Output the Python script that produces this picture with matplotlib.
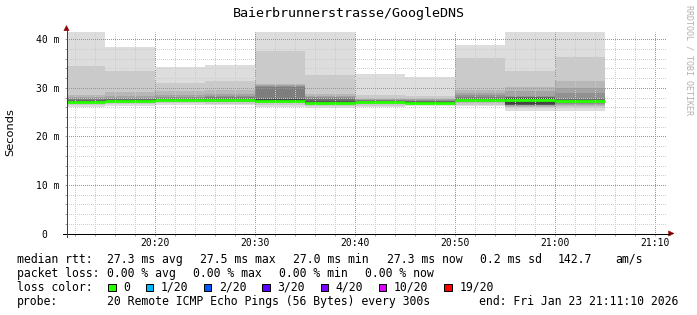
import matplotlib
matplotlib.use('Agg')
import matplotlib.pyplot as plt
import numpy as np
from matplotlib.patches import Rectangle, Polygon
from matplotlib.lines import Line2D

W, H = 697, 315
MONO = 'DejaVu Sans Mono'

# step start times, minutes after 20:00 (300 s steps)
starts = [10, 15, 20, 25, 30, 35, 40, 45, 50, 55, 60]
step = 5

# sorted rtts of the 20 pings per step (ms)
pings = [
    [26.0, 26.5, 26.7, 26.8, 26.9, 26.95, 27.0, 27.0, 27.05, 27.1, 27.15, 27.2, 27.3, 27.4, 27.6, 27.9, 28.1, 28.6, 34.6, 41.4],
    [26.3, 26.6, 26.9, 27.0, 27.1, 27.15, 27.2, 27.25, 27.3, 27.3, 27.35, 27.4, 27.5, 27.6, 27.8, 27.9, 28.3, 29.1, 33.5, 38.4],
    [26.5, 26.8, 27.0, 27.2, 27.3, 27.35, 27.4, 27.45, 27.5, 27.5, 27.55, 27.6, 27.7, 27.8, 28.0, 28.2, 28.6, 29.4, 31.0, 34.2],
    [26.4, 26.7, 27.0, 27.1, 27.2, 27.3, 27.35, 27.4, 27.45, 27.5, 27.55, 27.6, 27.7, 27.9, 28.1, 28.4, 28.8, 29.6, 31.5, 34.8],
    [26.1, 26.5, 26.8, 27.0, 27.1, 27.15, 27.2, 27.25, 27.3, 27.3, 27.4, 27.6, 27.8, 27.9, 30.1, 30.3, 30.5, 30.8, 37.6, 41.4],
    [25.8, 26.2, 26.4, 26.5, 26.6, 26.65, 26.7, 26.75, 26.8, 26.8, 26.9, 27.1, 27.3, 27.8, 28.0, 28.2, 28.4, 28.7, 32.7, 41.4],
    [26.0, 26.3, 26.6, 26.8, 26.9, 26.95, 27.0, 27.0, 27.05, 27.05, 27.1, 27.15, 27.2, 27.3, 27.4, 27.5, 27.7, 28.0, 28.6, 32.8],
    [26.3, 26.5, 26.6, 26.7, 26.8, 26.85, 26.9, 26.9, 26.95, 26.95, 27.0, 27.05, 27.1, 27.2, 27.3, 27.45, 27.7, 28.0, 28.4, 32.2],
    [26.2, 26.5, 26.8, 27.0, 27.2, 27.3, 27.35, 27.4, 27.45, 27.5, 27.55, 27.6, 27.7, 27.9, 28.2, 28.5, 28.9, 29.6, 36.1, 38.8],
    [25.3, 25.8, 26.1, 26.3, 26.4, 26.4, 26.45, 26.5, 26.6, 27.3, 27.7, 27.9, 28.0, 28.1, 28.2, 28.4, 29.4, 30.1, 33.5, 41.4],
    [25.3, 25.8, 26.2, 26.5, 26.7, 26.9, 27.0, 27.1, 27.15, 27.2, 27.25, 27.3, 27.4, 27.6, 28.0, 28.9, 30.0, 31.5, 36.4, 41.4],
]
median = [27.1, 27.3, 27.5, 27.5, 27.35, 26.8, 27.0, 26.9, 27.5, 27.5, 27.2]

xticks = [20, 30, 40, 50, 60, 70]
xtick_labels = ['20:20', '20:30', '20:40', '20:50', '21:00', '21:10']
yticks = [0, 10, 20, 30, 40]
ytick_labels = ['0  ', '10 m', '20 m', '30 m', '40 m']

loss_labels = ['0', '1/20', '2/20', '3/20', '4/20', '10/20', '19/20']
loss_colors = ['#26ff00', '#00b8ff', '#0059ff', '#5e00ff', '#7e00ff', '#dd00ff', '#ff0000']

title = 'Baierbrunnerstrasse/GoogleDNS'


def fx(px):
    return px / W


def fy(py):
    return 1 - py / H


fig = plt.figure(figsize=(W / 100, H / 100), dpi=100)
fig.patch.set_facecolor('white')

ax_l, ax_r, ax_b, ax_t = 66.5, 666.5, 233.5, 32.0
ax = fig.add_axes([fx(ax_l), fy(ax_b), (ax_r - ax_l) / W, (ax_b - ax_t) / H])
ax.set_xlim(11 + 10 / 60, 71 + 10 / 60)
ax.set_ylim(0, 41.5)
for s in ax.spines.values():
    s.set_visible(False)

# smoke: layer k spans ping k .. ping (n-1-k), lighter outside
p = np.array(pings)
n = p.shape[1]
half = n // 2
edges = starts + [starts[-1] + step]
for k in range(half):
    g = int(190 / half * (half - 1 - k)) + 50
    col = '#%02x%02x%02x' % (g, g, g)
    lo = np.append(p[:, k], p[-1, k])
    hi = np.append(p[:, n - 1 - k], p[-1, n - 1 - k])
    ax.fill_between(edges, lo, hi, step='post', color=col, linewidth=0, zorder=1)

ax.hlines(median, starts, np.array(starts) + step, colors='#26ff00', linewidth=2.0, zorder=2)

# grid (1px on / 1px off dots, shifted half a pixel so they land on whole pixels)
ax.set_xticks(xticks)
ax.set_xticklabels(xtick_labels)
ax.set_xticks([m for m in range(12, 72, 2) if m % 10], minor=True)
ax.set_yticks(yticks)
ax.set_yticklabels(ytick_labels)
ax.set_yticks([v for v in range(0, 42, 2) if v % 10], minor=True)
ax.set_axisbelow(False)
ax.grid(which='minor', color='#cdcdcd', linestyle=(0.5, (1, 1)), linewidth=0.72)
ax.grid(which='major', color='#ff6a6a', linestyle=(0.5, (1, 1)), linewidth=0.72)
for axis in (ax.xaxis, ax.yaxis):
    for t in axis.get_major_ticks() + axis.get_minor_ticks():
        t.gridline.set_snap(True)
ax.tick_params(which='both', direction='out', length=1.5, width=0.72, color='#a0a0a0')
ax.tick_params(axis='x', which='major', pad=2, labelsize=7)
ax.tick_params(axis='y', which='major', pad=3.2, labelsize=7)
for lab in ax.get_xticklabels() + ax.get_yticklabels():
    lab.set_fontfamily(MONO)

# axis lines with arrows
fig.add_artist(Line2D([fx(62.5), fx(669)], [fy(ax_b), fy(ax_b)], color='black', lw=0.72, snap=True))
fig.add_artist(Line2D([fx(ax_l), fx(ax_l)], [fy(237), fy(30)], color='#404040', lw=0.72, snap=True))
arrow_c = '#8b0000'
fig.add_artist(Polygon([[fx(668.5), fy(ax_b - 2.7)], [fx(674), fy(ax_b)], [fx(668.5), fy(ax_b + 2.7)]],
                       closed=True, facecolor=arrow_c, edgecolor=arrow_c, lw=0.3, transform=fig.transFigure))
fig.add_artist(Polygon([[fx(ax_l - 2.7), fy(30.7)], [fx(ax_l), fy(25.5)], [fx(ax_l + 2.7), fy(30.7)]],
                       closed=True, facecolor=arrow_c, edgecolor=arrow_c, lw=0.3, transform=fig.transFigure))

# titles
fig.text(fx(349), fy(13.5), title, ha='center', va='center', fontsize=9.6, family=MONO)
fig.text(fx(10.5), fy(132), 'Seconds', rotation=90, ha='center', va='center', fontsize=8.2)
fig.text(fx(689), fy(60), 'RRDTOOL / TOBI OETIKER', rotation=-90, ha='center', va='center',
         fontsize=6, family=MONO, color='#b0b0b0')

# legend rows
fs = 8.3
rows = [
    (259.3, [(16.7, 'median rtt:'), (107.3, '27.3 ms avg'), (200.3, '27.5 ms max'), (293.3, '27.0 ms min'),
             (386.7, '27.3 ms now'), (479.8, '0.2 ms sd'), (558, '142.7'), (615, 'am/s')]),
    (273.3, [(16.7, 'packet loss:'), (107.3, '0.00 % avg'), (193.3, '0.00 % max'), (279.3, '0.00 % min'),
             (365.4, '0.00 % now')]),
    (287.3, [(16.7, 'loss color:')]),
    (301.3, [(16.7, 'probe:'), (107.3, '20 Remote ICMP Echo Pings (56 Bytes) every 300s'),
             (479.3, 'end: Fri Jan 23 21:11:10 2026')]),
]
for y, items in rows:
    for x, s in items:
        fig.text(fx(x), fy(y), s, ha='left', va='center', fontsize=fs, family=MONO)

cw = 6.93
x = 108.3
for lab, col in zip(loss_labels, loss_colors):
    fig.add_artist(Rectangle((fx(x), fy(291.3)), 7.3 / W, 7.6 / H, transform=fig.transFigure,
                             facecolor=col, edgecolor='black', lw=0.72))
    fig.text(fx(x + 15), fy(287.3), lab, ha='left', va='center', fontsize=fs, family=MONO)
    x = x + 15 + len(lab) * cw + 15.6

fig.savefig('out.png', dpi=100)
